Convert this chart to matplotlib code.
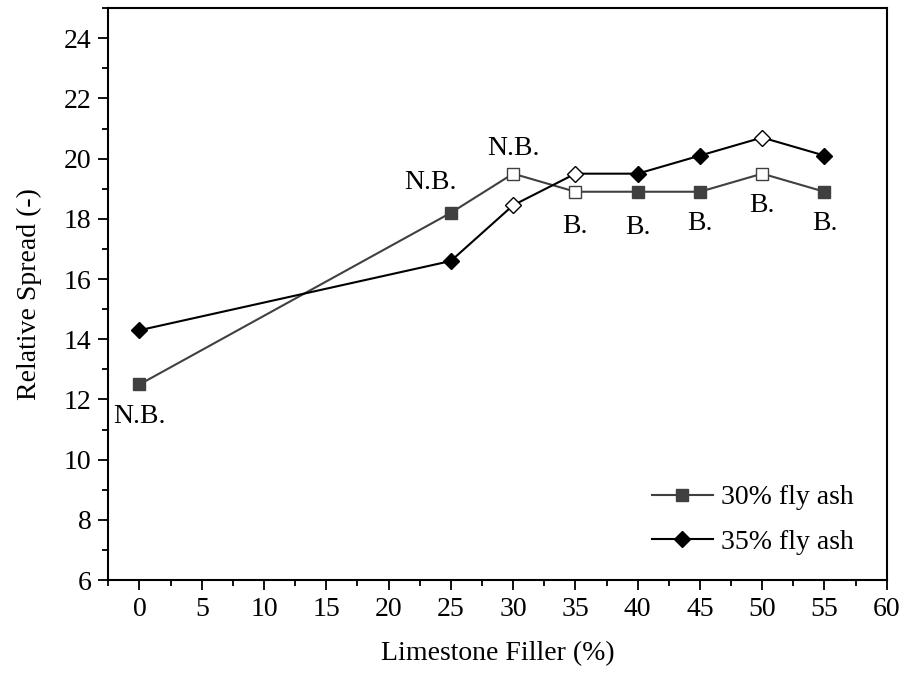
import numpy as np
import matplotlib.pyplot as plt
from matplotlib.ticker import MultipleLocator

plt.rcParams['font.family'] = ['Liberation Serif', 'DejaVu Serif']

filler = [0, 25, 30, 35, 40, 45, 50, 55]
spread_30 = [12.5, 18.2, 19.5, 18.9, 18.9, 18.9, 19.5, 18.9]
spread_35 = [14.3, 16.6, 18.45, 19.5, 19.5, 20.1, 20.7, 20.1]
# hollow markers in the original
open_30 = [False, False, True, True, False, False, True, False]
open_35 = [False, False, True, True, False, False, True, False]

labels_30 = ['N.B.', 'N.B.', 'N.B.', 'B.', 'B.', 'B.', 'B.', 'B.']
label_pos = [(0, 11.45), (23.4, 19.2), (30, 20.35), (35, 17.75),
             (40, 17.7), (45, 17.85), (50, 18.45), (55, 17.85)]

c30 = '#404040'
c35 = '#000000'
fs = 20

fig = plt.figure(figsize=(9.03, 6.73), dpi=100)
ax = fig.add_axes([0.12, 0.138, 0.862, 0.85])

ax.plot(filler, spread_30, '-', color=c30, lw=1.5, zorder=2)
ax.plot(filler, spread_35, '-', color=c35, lw=1.5, zorder=2)

x = np.array(filler)
y30 = np.array(spread_30)
m30 = np.array(open_30)
ax.plot(x[~m30], y30[~m30], 's', color=c30, ms=8.5, mec=c30, zorder=3)
ax.plot(x[m30], y30[m30], 's', mfc='white', mec=c30, ms=8.5, mew=1, zorder=3)

y35 = np.array(spread_35)
m35 = np.array(open_35)
ax.plot(x[~m35], y35[~m35], 'D', color=c35, ms=8.5, zorder=3)
ax.plot(x[m35], y35[m35], 'D', mfc='white', mec=c35, ms=8.5, mew=1, zorder=3)

# legend handles
ax.plot([], [], '-s', color=c30, ms=8.5, lw=1.5, label='30% fly ash')
ax.plot([], [], '-D', color=c35, ms=8.5, lw=1.5, label='35% fly ash')

for txt, (px, py) in zip(labels_30, label_pos):
    ax.text(px, py, txt, ha='center', va='center', fontsize=fs)

ax.set_xlim(-2.5, 60)
ax.set_ylim(6, 25)
ax.xaxis.set_major_locator(MultipleLocator(5))
ax.xaxis.set_minor_locator(MultipleLocator(2.5))
ax.yaxis.set_major_locator(MultipleLocator(2))
ax.yaxis.set_minor_locator(MultipleLocator(1))
ax.tick_params(which='both', direction='out', width=1.3, labelsize=fs)
ax.tick_params(which='major', length=7, pad=5)
ax.tick_params(which='minor', length=4)
for s in ax.spines.values():
    s.set_linewidth(1.5)

ax.set_xlabel('Limestone Filler (%)', fontsize=fs, labelpad=14)
ax.set_ylabel('Relative Spread (-)', fontsize=fs, labelpad=16)

ax.legend(loc='lower right', frameon=False, fontsize=fs,
          handlelength=2.2, borderaxespad=0.5, handletextpad=0.3,
          labelspacing=0.7, bbox_to_anchor=(0.99, 0.0))

fig.savefig('out.png', dpi=100)
